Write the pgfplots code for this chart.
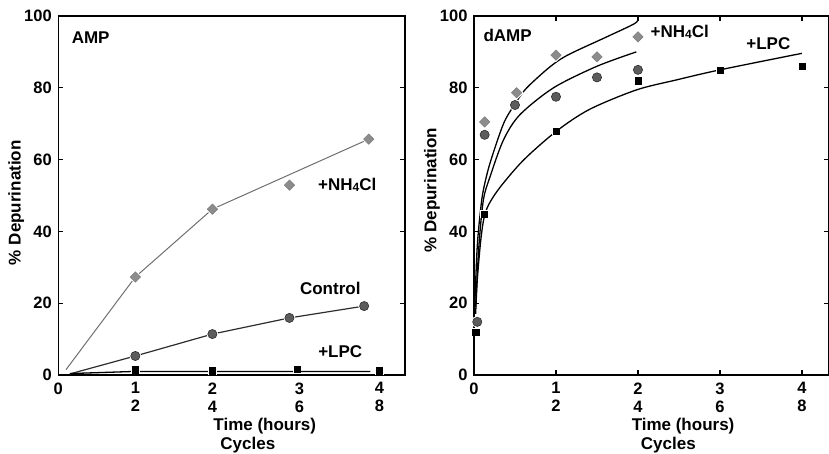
\documentclass[border=0pt]{standalone}
\usepackage{fontspec}
\setmainfont{Liberation Sans}
\usepackage{pgfplots}
\pgfplotsset{compat=1.18}

\definecolor{dia}{RGB}{140,140,140}
\definecolor{cir}{RGB}{92,92,92}
\definecolor{cirline}{RGB}{45,45,45}
\definecolor{amp1}{RGB}{110,110,110}

\newcommand{\lab}{\fontsize{17}{19}\selectfont\bfseries}
\newcommand{\nhcl}{+NH\raisebox{-0.5pt}{\fontsize{12}{12}\selectfont 4}Cl}

\pgfplotsset{
  panel/.style={
    scale only axis, height=359pt, ymin=0, ymax=100, xmin=0,
    ytick={0,20,...,100},
    axis line style={line width=1.3pt},
    tick style={line width=1.1pt, black},
    major tick length=5pt, tick align=inside,
    /pgf/number format/assume math mode=true,
    ticklabel style={font=\fontsize{16.5}{18}\selectfont\bfseries},
    xticklabel style={align=center, anchor=north, yshift=-4pt},
    yticklabel style={xshift=-3pt},
    clip=false,
  },
  dmark/.style={only marks, mark=square*, mark size=3.7pt,
    mark options={rotate=45, fill=dia, draw=dia!85!black, line width=0.4pt}},
  dhalo/.style={only marks, mark=square*, mark size=3.7pt,
    mark options={rotate=45, fill=white, draw=white, line width=2.6pt}},
  cmark/.style={only marks, mark=*, mark size=4.6pt,
    mark options={fill=cir, draw=cirline, line width=0.6pt}},
  chalo/.style={only marks, mark=*, mark size=4.6pt,
    mark options={fill=white, draw=white, line width=2.6pt}},
  smark/.style={only marks, mark=square*, mark size=3.1pt,
    mark options={fill=black, draw=black, line width=0.4pt}},
  shalo/.style={only marks, mark=square*, mark size=3.1pt,
    mark options={fill=white, draw=white, line width=2.4pt}},
}

\begin{document}
\begin{tikzpicture}
\path[use as bounding box] (-58.3pt,-79pt) rectangle (770.7pt,375pt);

% ---------- AMP ----------
\begin{axis}[panel, at={(0pt,0pt)}, anchor=south west,
    width=346.7pt, xmax=4.5,
    xtick={0,1,2,3.13,4.17},
    xticklabels={0,1\\2,2\\4,3\\6,4\\8},
    major x tick style={draw=none},
    extra x ticks={1,2,3,4},
    extra x tick labels={},
  ]
  % lines
  \addplot[amp1, line width=1pt] coordinates {(0.1,1.5) (1,27.3) (2,46.2) (4.03,65.7)};
  \addplot[cirline, line width=1.2pt] coordinates {(0.15,0.3) (1,5.3) (2,11.4) (3,15.9) (3.97,19.2)};
  \addplot[black, line width=1.3pt] coordinates {(0.15,0.4) (1,1) (2,1) (3,1) (4.05,1)};
  % markers
  \addplot[dhalo] coordinates {(1,27.3) (2,46.2) (3,52.9) (4.03,65.7)};
  \addplot[dmark] coordinates {(1,27.3) (2,46.2) (3,52.9) (4.03,65.7)};
  \addplot[chalo] coordinates {(1,5.3) (2,11.4) (3,15.9) (3.97,19.2)};
  \addplot[cmark] coordinates {(1,5.3) (2,11.4) (3,15.9) (3.97,19.2)};
  \addplot[shalo] coordinates {(1,1.5) (2,1.2) (3.1,1.6) (4.17,1.2)};
  \addplot[smark] coordinates {(1,1.5) (2,1.2) (3.1,1.6) (4.17,1.2)};
  % texts
  \node[font=\lab] at (axis cs:0.42,94) {AMP};
  \node[font=\lab] at (axis cs:3.75,53) {\nhcl};
  \node[font=\lab] at (axis cs:3.53,24) {Control};
  \node[font=\lab] at (axis cs:3.66,6.5) {+LPC};
  \node[font=\lab, rotate=90] at ([xshift=-42pt]axis cs:0,48) {\% Depurination};
  \node[font=\lab] at ([yshift=-51pt]axis cs:2.68,0) {Time (hours)};
  \node[font=\lab] at ([yshift=-70pt]axis cs:2.46,0) {Cycles};
\end{axis}

% ---------- dAMP ----------
\begin{axis}[panel, at={(415.7pt,0pt)}, anchor=south west,
    width=355pt, xmax=4.33,
    xtick={0,1,2,3,4},
    xticklabels={0,1\\2,2\\4,3\\6,4\\8},
  ]
  % fitted curves
  \addplot[black, line width=1.3pt, smooth] coordinates {
    (0.01,20) (0.04,36) (0.08,46) (0.114,51.5) (0.195,59) (0.36,70)
    (0.5,75.5) (0.64,79.9) (0.93,85.9) (1.15,89.2) (1.62,94.2) (1.96,97.9) (2,99.3)};
  \addplot[black, line width=1.3pt, smooth] coordinates {
    (0.02,19) (0.06,36) (0.114,48.7) (0.195,55.2) (0.36,65.5) (0.56,72.5)
    (0.97,80) (1.5,86) (1.98,90)};
  \addplot[black, line width=1.3pt, smooth] coordinates {
    (0.02,17) (0.04,26.5) (0.08,37) (0.12,43.5) (0.18,47.5) (0.325,52.5)
    (0.61,60) (1.01,68) (1.41,74) (1.98,79.4) (2.47,82.2) (3,85) (4,89.6)};
  % markers
  \addplot[chalo] coordinates {(0.04,14.8) (0.13,66.9) (0.5,75.2) (1,77.5) (1.5,82.9) (2,85)};
  \addplot[cmark] coordinates {(0.04,14.8) (0.13,66.9) (0.5,75.2) (1,77.5) (1.5,82.9) (2,85)};
  \addplot[dhalo] coordinates {(0.13,70.5) (0.52,78.6) (1,89.1) (1.5,88.6) (2,94.2)};
  \addplot[dmark] coordinates {(0.13,70.5) (0.52,78.6) (1,89.1) (1.5,88.6) (2,94.2)};
  \addplot[shalo] coordinates {(0.02,12) (0.12,44.8) (1,68) (2,82) (3,84.8) (4,86)};
  \addplot[smark] coordinates {(0.02,12) (0.12,44.8) (1,68) (2,82) (3,84.8) (4,86)};
  % texts
  \node[font=\lab] at (axis cs:0.41,94.7) {dAMP};
  \node[font=\lab] at (axis cs:2.51,95.6) {\nhcl};
  \node[font=\lab] at (axis cs:3.59,92.4) {+LPC};
  \node[font=\lab, rotate=90] at ([xshift=-42pt]axis cs:0,51.5) {\% Depurination};
  \node[font=\lab] at ([yshift=-51pt]axis cs:2.55,0) {Time (hours)};
  \node[font=\lab] at ([yshift=-70pt]axis cs:2.37,0) {Cycles};
\end{axis}
\end{tikzpicture}
\end{document}
